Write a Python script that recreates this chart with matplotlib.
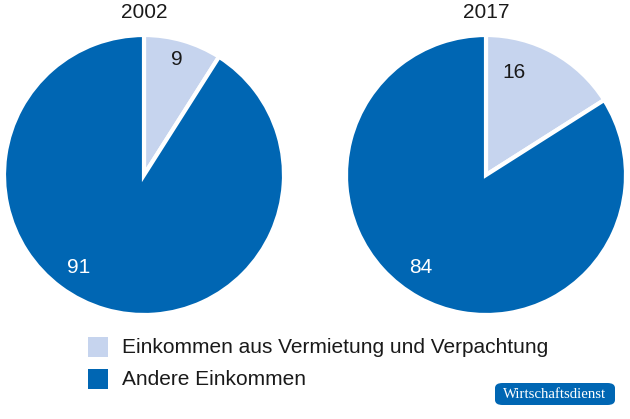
import matplotlib.pyplot as plt
from matplotlib.patches import FancyBboxPatch, Rectangle
import numpy as np

plt.rcParams['font.family'] = ['Liberation Sans', 'DejaVu Sans']

years = ["2002", "2017"]
rent_share = [9, 16]
other_share = [91, 84]
categories = ["Einkommen aus Vermietung und Verpachtung", "Andere Einkommen"]
colors = ["#c6d4ee", "#0066b3"]

# label placement (angle in degrees, radius) per pie, chosen to match the original
label_pos = [[(74, 0.86), (235, 0.81)], [(75, 0.76), (235, 0.81)]]

W, H = 630, 419
fig = plt.figure(figsize=(W / 100, H / 100), dpi=100)

centers_x = [144, 486]
cy, r = 175, 140
for i, year in enumerate(years):
    ax = fig.add_axes([(centers_x[i] - r) / W, 1 - (cy + r) / H, 2 * r / W, 2 * r / H])
    ax.pie([rent_share[i], other_share[i]], colors=colors, startangle=90,
           counterclock=False, radius=1,
           wedgeprops=dict(edgecolor="white", linewidth=3))
    ax.set_xlim(-1, 1)
    ax.set_ylim(-1, 1)
    ax.set_aspect("equal")
    ax.axis("off")
    for val, (ang, rr) in zip([rent_share[i], other_share[i]], label_pos[i]):
        a = np.deg2rad(ang)
        ax.text(rr * np.cos(a), rr * np.sin(a), str(val), ha="center", va="center",
                fontsize=15, color="#1a1a1a" if val == rent_share[i] else "white")
    fig.text(centers_x[i] / W, 1 - 13 / H, year, ha="center", va="center",
             fontsize=15, color="#1a1a1a")

# legend
for j, (lab, col) in enumerate(zip(categories, colors)):
    y0 = 337 + j * 32
    fig.patches.append(Rectangle((88 / W, 1 - (y0 + 20) / H), 20 / W, 20 / H,
                                 transform=fig.transFigure, facecolor=col,
                                 edgecolor="none"))
    fig.text(122 / W, 1 - (y0 + 10) / H, lab, ha="left", va="center",
             fontsize=15, color="#1a1a1a")

# badge
fig.patches.append(FancyBboxPatch((495 / W, 1 - 405 / H), 120 / W, 22 / H,
                                  boxstyle="round,pad=0,rounding_size=0.012",
                                  transform=fig.transFigure, facecolor="#0066b3",
                                  edgecolor="none"))
fig.text(555 / W, 1 - 394 / H, "Wirtschaftsdienst", ha="center", va="center",
         fontsize=10.7, color="white", family=["Liberation Serif", "DejaVu Serif"])

fig.savefig("out.png", dpi=100)
